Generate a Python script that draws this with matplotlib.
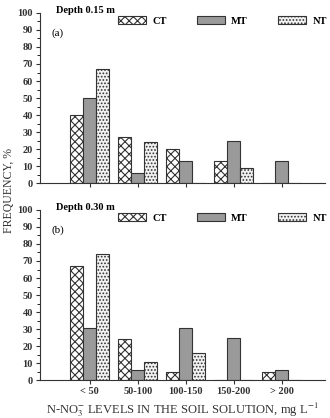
import numpy as np
from matplotlib import pyplot as plt

plt.rcParams['font.family'] = ['Liberation Serif', 'DejaVu Serif']
plt.rcParams['hatch.linewidth'] = 0.8
plt.rcParams['mathtext.fontset'] = 'stix'

categories = ['< 50', '50-100', '100-150', '150-200', '> 200']
series = ['CT', 'MT', 'NT']

# profondeur 0.15 m
ct_15 = [40, 27, 20, 13, 0]
mt_15 = [50, 6, 13, 25, 13]
nt_15 = [67, 24, 0, 9, 0]

# profondeur 0.30 m
ct_30 = [67, 24, 5, 0, 5]
mt_30 = [31, 6, 31, 25, 6]
nt_30 = [74, 11, 16, 0, 0]

styles = {
    'CT': dict(facecolor='white', hatch='xxxx'),
    'MT': dict(facecolor='#9a9a9a', hatch=None),
    'NT': dict(facecolor='#f2f2f2', hatch='.....'),
}

fig = plt.figure(figsize=(3.3, 4.18), dpi=100)
ax1 = fig.add_axes([0.121, 0.562, 0.864, 0.407])
ax2 = fig.add_axes([0.121, 0.090, 0.864, 0.408])

x = np.arange(len(categories))
w = 0.27


def draw(ax, data, depth, letter, show_labels):
    for i, (name, vals) in enumerate(zip(series, data)):
        ax.bar(x + (i - 1) * w, vals, w, edgecolor='#333333', linewidth=0.8,
               label=name, **styles[name])
    ax.set_xlim(-1.04, 4.9)
    ax.set_ylim(0, 100)
    ax.set_yticks(np.arange(0, 101, 10))
    ax.set_yticks(np.arange(0, 101, 5), minor=True)
    ax.set_xticks(x)
    if show_labels:
        ax.set_xticklabels(categories, fontweight='bold', fontsize=7.5)
    else:
        ax.set_xticklabels([])
    for lab in ax.get_yticklabels():
        lab.set_fontweight('bold')
        lab.set_fontsize(7.5)
    ax.tick_params(axis='both', direction='out', length=3, width=0.8, pad=2, colors='#333333')
    ax.tick_params(axis='y', which='minor', length=2)
    ax.tick_params(axis='x', which='minor', bottom=False)
    for s in ['top', 'right']:
        ax.spines[s].set_visible(False)
    for s in ['left', 'bottom']:
        ax.spines[s].set_linewidth(0.8)
        ax.spines[s].set_color('#333333')
    ax.text(0.057, 1.012, depth, transform=ax.transAxes, fontsize=7.5,
            fontweight='bold', va='center')
    ax.text(0.042, 0.88, letter, transform=ax.transAxes, fontsize=8, va='center')
    ax.legend(loc='center left', bbox_to_anchor=(0.273, 0.953), ncol=3, frameon=False,
              prop={'weight': 'bold', 'size': 7.5}, borderaxespad=0, borderpad=0,
              handlelength=2.7, handleheight=0.8, columnspacing=2.9, handletextpad=0.6)


draw(ax1, [ct_15, mt_15, nt_15], 'Depth 0.15 m', '(a)', False)
draw(ax2, [ct_30, mt_30, nt_30], 'Depth 0.30 m', '(b)', True)

fig.text(0.025, 0.545, 'FREQUENCY, %', rotation=90, fontsize=8.5, ha='center', va='center',
         color='#333333')
ax2.set_xlabel('N-NO$_3^{-}$ LEVELS IN THE SOIL SOLUTION, mg L$^{-1}$', fontsize=9,
               labelpad=3, color='#333333')

plt.savefig('out.png', dpi=100)
